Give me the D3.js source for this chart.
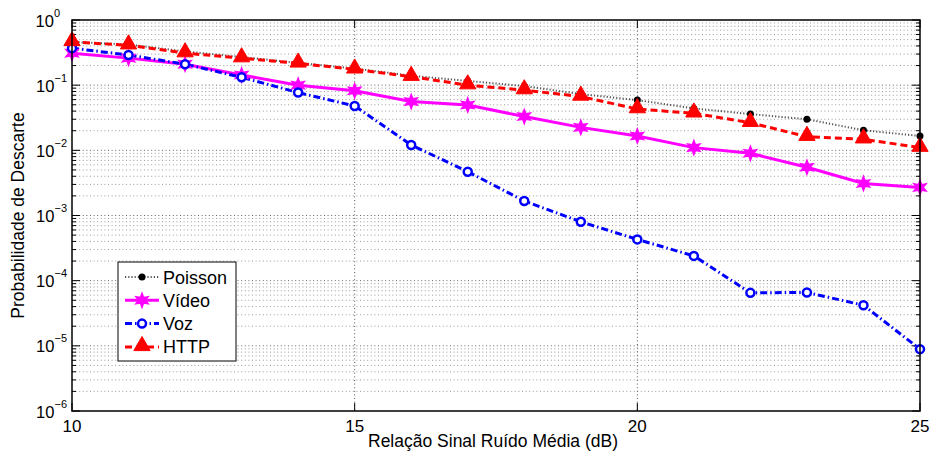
<!DOCTYPE html>
<html>
<head>
<meta charset="utf-8">
<script src="https://cdn.jsdelivr.net/npm/d3@7"></script>
<style>
  body { margin: 0; background: #fff; }
  text { font-family: "Liberation Sans", Arial, sans-serif; fill: #000; }
</style>
</head>
<body>
<svg id="chart" width="932" height="456"></svg>
<script>
// data
let snr = d3.range(10, 26);
let poisson = [0.46, 0.42, 0.33, 0.27, 0.22, 0.18, 0.14, 0.116, 0.097, 0.073, 0.059, 0.044, 0.036, 0.030, 0.0203, 0.0166];
let video = [0.31, 0.26, 0.21, 0.143, 0.10, 0.082, 0.056, 0.0497, 0.033, 0.0225, 0.0166, 0.011, 0.009, 0.0055, 0.0031, 0.0027];
let voz = [0.37, 0.29, 0.21, 0.132, 0.077, 0.048, 0.0121, 0.0047, 0.00167, 0.0008, 0.00043, 0.00024, 6.5e-5, 6.6e-5, 4.2e-5, 8.9e-6];
let http = [0.46, 0.41, 0.31, 0.26, 0.216, 0.175, 0.135, 0.10, 0.084, 0.067, 0.043, 0.037, 0.0265, 0.0162, 0.0148, 0.011];
let xTicks = [10, 15, 20, 25];
let yExps = [0, -1, -2, -3, -4, -5, -6];
let legendNames = ["Poisson", "Vídeo", "Voz", "HTTP"];

let svg = d3.select("#chart"),
    pLeft = 72, pRight = 920, pTop = 20, pBottom = 411;

let x = d3.scaleLinear().domain([10, 25]).range([pLeft, pRight]);
let y = d3.scaleLog().domain([1e-6, 1]).range([pBottom, pTop]);

// minor log values for grid / ticks
let minors = [];
yExps.slice(1).forEach(function(e) {
  for (let m = 2; m <= 9; m++) minors.push(m * Math.pow(10, e));
});

let grid = svg.append("g");
grid.selectAll("line.hmin")
  .data(minors)
  .enter().append("line")
    .attr("x1", pLeft).attr("x2", pRight)
    .attr("y1", function(d) { return y(d); }).attr("y2", function(d) { return y(d); })
    .attr("stroke", "#9a9a9a").attr("stroke-width", 1).attr("stroke-dasharray", "1,2.6");
grid.selectAll("line.hmaj")
  .data(yExps.slice(1, -1))
  .enter().append("line")
    .attr("x1", pLeft).attr("x2", pRight)
    .attr("y1", function(d) { return y(Math.pow(10, d)); }).attr("y2", function(d) { return y(Math.pow(10, d)); })
    .attr("stroke", "#666").attr("stroke-width", 1).attr("stroke-dasharray", "1,2.6");
grid.selectAll("line.v")
  .data(xTicks.slice(1, -1))
  .enter().append("line")
    .attr("x1", function(d) { return x(d); }).attr("x2", function(d) { return x(d); })
    .attr("y1", pTop).attr("y2", pBottom)
    .attr("stroke", "#555").attr("stroke-width", 1).attr("stroke-dasharray", "1,2.6");

// tick marks, inward, on all sides
let ticks = svg.append("g").attr("stroke", "#000").attr("stroke-width", 1);
xTicks.forEach(function(t) {
  ticks.append("line").attr("x1", x(t)).attr("x2", x(t)).attr("y1", pBottom).attr("y2", pBottom - 8);
  ticks.append("line").attr("x1", x(t)).attr("x2", x(t)).attr("y1", pTop).attr("y2", pTop + 8);
});
yExps.forEach(function(e) {
  let yy = y(Math.pow(10, e));
  ticks.append("line").attr("x1", pLeft).attr("x2", pLeft + 8).attr("y1", yy).attr("y2", yy);
  ticks.append("line").attr("x1", pRight).attr("x2", pRight - 8).attr("y1", yy).attr("y2", yy);
});
minors.forEach(function(v) {
  ticks.append("line").attr("x1", pLeft).attr("x2", pLeft + 4).attr("y1", y(v)).attr("y2", y(v));
  ticks.append("line").attr("x1", pRight).attr("x2", pRight - 4).attr("y1", y(v)).attr("y2", y(v));
});

// series
let series = [
  { name: legendNames[0], data: poisson, color: "#000", width: 2, dash: "1.2,2", marker: "dot", lineColor: "#555" },
  { name: legendNames[1], data: video, color: "#ff00ff", width: 3, dash: null, marker: "star" },
  { name: legendNames[2], data: voz, color: "#0000ff", width: 3, dash: "7,3,1.5,3", marker: "circle" },
  { name: legendNames[3], data: http, color: "#ff0000", width: 3, dash: "7,4", marker: "tri" }
];

let line = d3.line()
  .x(function(d, i) { return x(snr[i]); })
  .y(function(d) { return y(d); });

let tri = d3.symbol().type(d3.symbolTriangle).size(115);

function drawMarker(g, s, cx, cy) {
  if (s.marker === "dot") {
    g.append("circle").attr("cx", cx).attr("cy", cy).attr("r", 3.5).attr("fill", "#000");
  } else if (s.marker === "circle") {
    g.append("circle").attr("cx", cx).attr("cy", cy).attr("r", 4).attr("fill", "#fff")
      .attr("stroke", s.color).attr("stroke-width", 2.5);
  } else if (s.marker === "star") {
    // six-point star (hexagram)
    let pts = [];
    for (let k = 0; k < 12; k++) {
      let a = Math.PI / 6 * k - Math.PI / 2, r = k % 2 ? 3.2 : 7;
      pts.push([cx + r * Math.cos(a), cy + r * Math.sin(a)]);
    }
    g.append("polygon").attr("points", pts.map(function(p) { return p.join(","); }).join(" "))
      .attr("fill", s.color).attr("stroke", s.color).attr("stroke-width", 1.5);
  } else if (s.marker === "tri") {
    g.append("path").attr("d", tri()).attr("transform", "translate(" + cx + "," + (cy - 1) + ")")
      .attr("fill", s.color).attr("stroke", s.color).attr("stroke-width", 1);
  }
}

let plot = svg.append("g");
series.forEach(function(s) {
  plot.append("path")
    .datum(s.data)
    .attr("d", line)
    .attr("fill", "none")
    .attr("stroke", s.lineColor || s.color)
    .attr("stroke-width", s.width)
    .attr("stroke-dasharray", s.dash);
});
series.forEach(function(s) {
  let g = plot.append("g");
  s.data.forEach(function(v, i) { drawMarker(g, s, x(snr[i]), y(v)); });
});

// box
svg.append("rect").attr("x", pLeft).attr("y", pTop).attr("width", pRight - pLeft).attr("height", pBottom - pTop)
  .attr("fill", "none").attr("stroke", "#000").attr("stroke-width", 1.5);

// tick labels
svg.append("g").selectAll("text")
  .data(xTicks)
  .enter().append("text")
    .attr("x", function(d) { return x(d); })
    .attr("y", 432)
    .attr("text-anchor", "middle")
    .attr("font-size", 17)
    .text(function(d) { return d; });

let yl = svg.append("g").selectAll("text")
  .data(yExps)
  .enter().append("text")
    .attr("x", function(d) { return d === 0 ? 60 : 67; })
    .attr("y", function(d) { return y(Math.pow(10, d)) + 6.5; })
    .attr("text-anchor", "end")
    .attr("font-size", 16.5);
yl.append("tspan").text("10");
yl.append("tspan").attr("dy", -10).attr("font-size", 11)
  .text(function(d) { return d === 0 ? "0" : "\u2212" + (-d); });

// axis titles
svg.append("text").attr("x", 493).attr("y", 447)
  .attr("text-anchor", "middle").attr("font-size", 17.5)
  .text("Relação Sinal Ruído Média (dB)");
svg.append("text")
  .attr("transform", "translate(24," + ((pTop + pBottom) / 2) + ") rotate(-90)")
  .attr("text-anchor", "middle").attr("font-size", 17.5)
  .text("Probabilidade de Descarte");

// legend
let lg = svg.append("g").attr("transform", "translate(118,262)");
lg.append("rect").attr("width", 118).attr("height", 99)
  .attr("fill", "#fff").attr("stroke", "#000").attr("stroke-width", 1);
series.forEach(function(s, i) {
  let yy = 15 + i * 23.3;
  lg.append("line").attr("x1", 7).attr("x2", 41).attr("y1", yy).attr("y2", yy)
    .attr("stroke", s.lineColor || s.color).attr("stroke-width", s.width)
    .attr("stroke-dasharray", s.dash);
  drawMarker(lg, s, 24, yy);
  lg.append("text").attr("x", 45).attr("y", yy + 6.5).attr("font-size", 18).text(s.name);
});
</script>
</body>
</html>
